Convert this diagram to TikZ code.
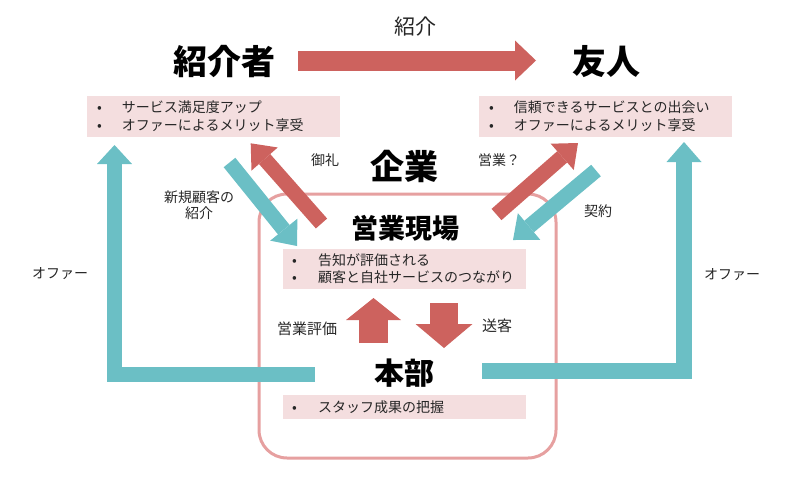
\documentclass[tikz,border=0pt]{standalone}
\usepackage{fontspec}
\setmainfont{Noto Sans CJK JP}
\usepackage{tikz}
\usetikzlibrary{positioning}
\usetikzlibrary{arrows.meta}
\definecolor{arrowred}{RGB}{205,98,94}
\definecolor{arrowteal}{RGB}{107,191,197}
\definecolor{boxpink}{RGB}{244,222,223}
\definecolor{framepink}{RGB}{230,160,160}
\definecolor{textgray}{RGB}{38,38,38}
\newcommand{\bul}{\makebox[25pt][l]{•}}

\tikzset{
  bigtitle/.style={font=\fontsize{34}{40}\selectfont\bfseries},
  subtitle/.style={font=\fontsize{27}{32}\selectfont\bfseries},
  smalltext/.style={font=\fontsize{14}{16.5}\selectfont, text=textgray},
  pinkbox/.style={fill=boxpink, inner ysep=0pt, align=left, text=textgray,
    font=\fontsize{14}{18}\selectfont},
  redarrow/.style={draw=arrowred, line width=#1},
  tealarrow/.style={draw=arrowteal, line width=#1},
}

\begin{document}
\begin{tikzpicture}[x=1pt,y=-1pt]
       \useasboundingbox (0,0) rectangle (800,480);
       % frame of the company
       \node[draw=framepink, line width=3pt, rounded corners=28pt,
             minimum width=297pt, minimum height=264pt] (frame) at (407.5,326) {};
       % titles
       \node[bigtitle] (shokaisha) at (224,62) {紹介者};
       \node[bigtitle] (yujin) at (606,62) {友人};
       \node[bigtitle] (kigyo) at (404,166) {企業};
       \node[subtitle] (genba) at (405,228) {営業現場};
       \node[font=\fontsize{30}{36}\selectfont\bfseries] (honbu) at (404,373) {本部};
       % bullet boxes
       \node[pinkbox, text width=233pt, inner xsep=10pt, minimum height=41pt] (shokaishabox) at (213.5,116.5)
            {\bul サービス満足度アップ\\\bul オファーによるメリット享受};
       \node[pinkbox, text width=233pt, inner xsep=10pt, minimum height=41pt] (yujinbox) at (605.5,116.5)
            {\bul 信頼できるサービスとの出会い\\\bul オファーによるメリット享受};
       \node[pinkbox, text width=225pt, inner xsep=9pt, minimum height=40pt,
             font=\fontsize{14}{17}\selectfont] (genbabox) at (404.5,269)
            {\makebox[26pt][l]{•}告知が評価される\\\makebox[26pt][l]{•}顧客と自社サービスのつながり};
       \node[pinkbox, text width=225pt, inner xsep=9pt, minimum height=24pt] (honbubox) at (404.5,407)
            {\makebox[26pt][l]{•}スタッフ成果の把握};
       % arrow ends
       \coordinate (introA) at (298,60.5);
       \coordinate (introB) at (536,60.5);
       \coordinate (offerLa) at (315,374.5);
       \coordinate (offerLb) at (114.5,374.5);
       \coordinate (offerLc) at (114.5,145);
       \coordinate (offerRa) at (482,371);
       \coordinate (offerRb) at (684,371);
       \coordinate (offerRc) at (684,142);
       \coordinate (newA) at (229.5,162.5);
       \coordinate (newB) at (297,246);
       \coordinate (thanksA) at (321.5,223.5);
       \coordinate (thanksB) at (250.7,143.3);
       \coordinate (salesA) at (496.5,214.5);
       \coordinate (salesB) at (578,143);
       \coordinate (dealA) at (596,170.5);
       \coordinate (dealB) at (513,240);
       \coordinate (evalA) at (373.5,343);
       \coordinate (evalB) at (373.5,298);
       \coordinate (sendA) at (444,303);
       \coordinate (sendB) at (444,348);
       % arrows
       \draw[redarrow=20pt, -{Triangle[width=40pt,length=21pt,line width=0pt]}] (introA) -- (introB);
       \draw[tealarrow=15pt, -{Triangle[width=35pt,length=19pt,line width=0pt]}] (offerLa) -- (offerLb) -- (offerLc);
       \draw[tealarrow=16pt, -{Triangle[width=35pt,length=20pt,line width=0pt]}] (offerRa) -- (offerRb) -- (offerRc);
       \draw[tealarrow=15pt, -{Triangle[width=35pt,length=21pt,line width=0pt]}] (newA) -- (newB);
       \draw[redarrow=15pt, -{Triangle[width=35pt,length=21pt,line width=0pt]}] (thanksA) -- (thanksB);
       \draw[redarrow=15pt, -{Triangle[width=35pt,length=21pt,line width=0pt]}] (salesA) -- (salesB);
       \draw[tealarrow=15pt, -{Triangle[width=35pt,length=21pt,line width=0pt]}] (dealA) -- (dealB);
       \draw[redarrow=29pt, -{Triangle[width=55pt,length=22pt,line width=0pt]}] (evalA) -- (evalB);
       \draw[redarrow=28pt, -{Triangle[width=57pt,length=24pt,line width=0pt]}] (sendA) -- (sendB);
       % labels
       \node[smalltext, font=\fontsize{21}{24}\selectfont] (introlbl) at (415,27) {紹介};
       \node[smalltext] (thankslbl) at (325,160) {御礼};
       \node[smalltext, align=center] (newlbl) at (199,205) {新規顧客の\\紹介};
       \node[smalltext] (saleslbl) at (499,160) {営業？};
       \node[smalltext] (deallbl) at (598,211) {契約};
       \node[smalltext, font=\fontsize{15}{18}\selectfont] (evallbl) at (307,329) {営業評価};
       \node[smalltext, font=\fontsize{15}{18}\selectfont] (sendlbl) at (497,326) {送客};
       \node[smalltext] (offerLlbl) at (60,274) {オファー};
       \node[smalltext] (offerRlbl) at (732,275) {オファー};
\end{tikzpicture}
\end{document}
